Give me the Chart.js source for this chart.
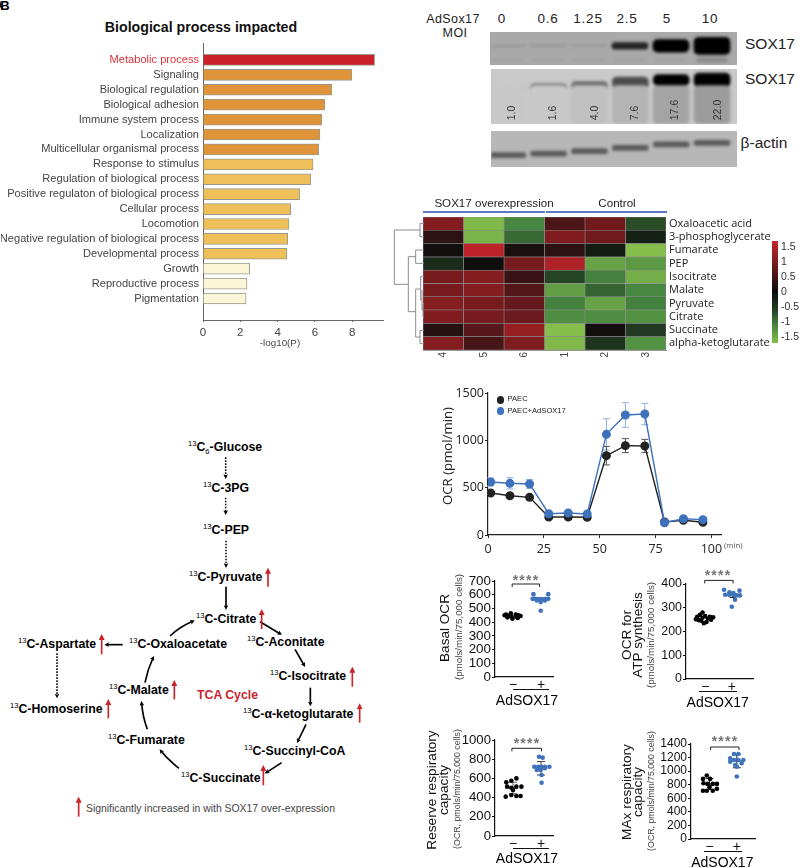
<!DOCTYPE html>
<html>
<head>
<meta charset="utf-8">
<style>
  html, body { margin: 0; padding: 0; background: #fff; }
  #page { position: relative; width: 800px; height: 868px; overflow: hidden; font-family: "Liberation Sans", Arial, sans-serif; }
  #page canvas { position: absolute; }
  .t { position: absolute; white-space: nowrap; line-height: 1; }
  .t sup, .t sub { font-size: 0.62em; font-weight: normal; line-height: 0; }
  .blot { position: absolute; overflow: hidden; }
  svg { position: absolute; }
</style>
<script src="https://cdn.jsdelivr.net/npm/chart.js@4"></script>
</head>
<body>
<div id="page"></div>
<script>
// A: GO terms
const goTerms = ["Metabolic process", "Signaling", "Biological regulation", "Biological adhesion", "Immune system process", "Localization", "Multicellular organismal process", "Response to stimulus", "Regulation of biological process", "Positive regulaton of biological process", "Cellular process", "Locomotion", "Negative regulation of biological process", "Developmental process", "Growth", "Reproductive process", "Pigmentation"];
const goValues = [9.2, 7.98, 6.9, 6.53, 6.37, 6.27, 6.2, 5.9, 5.78, 5.18, 4.7, 4.61, 4.54, 4.5, 2.5, 2.36, 2.31];
const goColors = ["#cb2229", "#e0943a", "#e0943a", "#e0943a", "#e0943a", "#e0943a", "#e0943a", "#efc059", "#efc059", "#efc059", "#efc059", "#efc059", "#efc059", "#efc059", "#fbf7d6", "#fbf7d6", "#fbf7d6"];

// B: western blots, band density per lane
const moiLabels = ["0", "0.6", "1.25", "2.5", "5", "10"];
const lanes = [0, 1, 2, 3, 4, 5];
const shortDensity = [0.08, 0.09, 0.07, 0.78, 1, 1];
const shortSize = [0.1, 0.1, 0.08, 0.2, 0.38, 0.52];
const longDensity = [0.08, 0.35, 0.38, 0.55, 1, 1];
const longSize = [0.1, 0.16, 0.16, 0.21, 0.2, 0.25];
const longLevel = [0.63, 0.65, 0.69, 0.75, 0.8, 0.8];
const longSmear = [0, 0, 0.04, 0.1, 0.18, 0.22];
const longQuant = ["1.0", "1.6", "4.0", "7.6", "17.6", "22.0"];
const actinLevel = [0.33, 0.37, 0.44, 0.53, 0.63, 0.67];

// C: metabolite heatmap
const metabolites = ["Oxaloacetic acid", "3-phosphoglycerate", "Fumarate", "PEP", "Isocitrate", "Malate", "Pyruvate", "Citrate", "Succinate", "alpha-ketoglutarate"];
const samples = ["4", "5", "6", "1", "2", "3"];
const heat4 = [0.95, 0.25, 0.05, -0.3, 0.85, 0.85, 0.95, 0.9, 0.2, 0.95];
const heat5 = [-1.45, -1.4, 1.4, 0.0, 0.95, 0.95, 0.85, 0.85, 0.6, 0.45];
const heat6 = [-1.0, -0.8, 0.1, 0.85, 0.35, 0.55, 0.7, 0.75, 1.1, 0.9];
const heat1 = [0.5, 0.9, 0.25, 1.3, -0.55, -1.2, -0.95, -1.05, -1.55, -1.45];
const heat2 = [0.8, 0.8, -0.15, -1.25, -0.95, -0.75, -1.25, -1.05, 0.05, -0.4];
const heat3 = [-0.6, -0.2, -1.5, -1.15, -1.35, -1.0, -0.95, -1.1, -0.45, -1.1];
const heatTicks = [-1.5, -1, -0.5, 0, 0.5, 1, 1.5];

// E: OCR trace
const ocrTime = [1.2, 9.8, 18.6, 27.2, 35.9, 44.4, 53, 61.5, 70.2, 79, 87.5, 96.2];
const ocrPaec = [444, 415, 398, 190, 190, 187, 838, 944, 940, 137, 155, 134];
const ocrPaecErr = [15, 15, 15, 20, 20, 20, 98, 74, 70, 15, 15, 15];
const ocrAd = [560, 546, 539, 225, 232, 222, 1063, 1268, 1278, 130, 172, 162];
const ocrAdErr = [42, 60, 46, 15, 15, 15, 165, 130, 113, 10, 15, 15];

// F: per-well values (x = swarm offset)
const basalMinus = [465, 455, 455, 450, 450, 445, 445, 440, 440, 435, 430, 425];
const basalMinusX = [-0.08, -0.25, 0.1, -0.3, 0.2, -0.15, 0.27, -0.05, 0.12, -0.2, 0.17, -0.02];
const basalPlus = [604, 604, 570, 570, 568, 568, 568, 570, 558, 546, 558, 483];
const basalPlusX = [-0.27, 0.26, -0.3, -0.21, -0.1, 0.02, 0.14, 0.26, -0.15, -0.01, 0.14, -0.01];
const atpMinus = [280, 270, 265, 262, 260, 258, 255, 252, 250, 245, 240, 235, 262, 248];
const atpMinusX = [-0.1, -0.2, 0.0, -0.3, 0.3, -0.1, 0.1, -0.35, 0.22, -0.15, 0.05, -0.05, 0.18, -0.25];
const atpPlus = [376, 372, 355, 355, 355, 352, 352, 365, 362, 334, 304];
const atpPlusX = [-0.29, 0.29, -0.25, -0.1, 0.06, 0.19, 0.31, -0.09, 0.06, 0.12, 0];
const reserveMinus = [559, 600, 576, 514, 503, 514, 514, 410, 427, 417, 417, 480];
const reserveMinusX = [-0.24, 0.12, -0.06, -0.21, -0.06, 0.12, 0.3, -0.26, -0.06, 0.12, 0.27, 0];
const reservePlus = [826, 816, 722, 722, 722, 722, 722, 688, 688, 705, 635, 555];
const reservePlusX = [-0.07, 0.06, -0.24, -0.1, 0.02, 0.14, 0.3, -0.15, -0.01, 0.14, 0.02, 0.02];
const maxMinus = [935, 886, 886, 822, 812, 812, 812, 710, 710, 710, 739, 764];
const maxMinusX = [-0.1, -0.24, 0.02, -0.22, -0.07, 0.12, 0.27, -0.24, -0.1, 0.12, 0.27, 0];
const maxPlus = [1253, 1253, 1189, 1165, 1165, 1165, 1140, 1091, 1116, 1067, 920];
const maxPlusX = [-0.1, 0.06, -0.24, -0.1, 0.06, 0.24, -0.24, -0.06, 0.18, 0, 0];

const page = document.getElementById("page");
const SANS = '"Liberation Sans", Arial, sans-serif';
const OPEN = '"Open Sans", sans-serif';

function txt(x, y, str, o) {
    o = o || {};
    const d = document.createElement("div");
    d.className = "t";
    d.innerHTML = str;
    d.style.left = x + "px";
    d.style.top = y + "px";
    d.style.fontSize = (o.size || 12) + "px";
    d.style.color = o.color || "#000";
    if (o.bold) d.style.fontWeight = "bold";
    if (o.font) d.style.fontFamily = o.font;
    if (o.ls) d.style.letterSpacing = o.ls + "px";
    const tx = o.left ? "0" : "-50%";
    d.style.transform = "translate(" + tx + ",-50%)" + (o.rot ? " rotate(" + o.rot + "deg)" : "");
    page.appendChild(d);
    return d;
}

function box(x, y, w, h, color) {
    const d = document.createElement("div");
    d.style.cssText = "position:absolute;left:" + x + "px;top:" + y + "px;width:" + w + "px;height:" + h + "px;background:" + color;
    page.appendChild(d);
}

// canvas around a plot rectangle, with fixed margins so the axes land where they should
function plotCanvas(r, m) {
    const c = document.createElement("canvas");
    c.width = m.l + (r.right - r.left) + m.r;
    c.height = m.t + (r.bottom - r.top) + m.b;
    c.style.left = (r.left - m.l) + "px";
    c.style.top = (r.top - m.t) + "px";
    page.appendChild(c);
    return c;
}

const errBars = {
    id: "errBars",
    beforeDatasetsDraw(chart, args, opts) {
        const ctx = chart.ctx, xs = chart.scales.x, ys = chart.scales.y;
        (opts.items || []).forEach(function (b) {
            const px = xs.getPixelForValue(b.x);
            const hi = ys.getPixelForValue(b.y + b.e);
            const lo = ys.getPixelForValue(b.y - b.e);
            ctx.save();
            ctx.strokeStyle = b.color;
            ctx.lineWidth = 1;
            ctx.beginPath();
            ctx.moveTo(px, hi); ctx.lineTo(px, lo);
            ctx.moveTo(px - b.cap, hi); ctx.lineTo(px + b.cap, hi);
            ctx.moveTo(px - b.cap, lo); ctx.lineTo(px + b.cap, lo);
            if (b.mid) { ctx.moveTo(px - b.mid, ys.getPixelForValue(b.y)); ctx.lineTo(px + b.mid, ys.getPixelForValue(b.y)); }
            ctx.stroke();
            ctx.restore();
        });
    }
};
const bracket = {
    id: "bracket",
    afterDraw(chart, args, opts) {
        if (opts.y === undefined) return;
        const ctx = chart.ctx, xs = chart.scales.x;
        const a = xs.getPixelForValue(opts.a), b = xs.getPixelForValue(opts.b);
        ctx.save();
        ctx.strokeStyle = "#222";
        ctx.lineWidth = 1;
        ctx.beginPath();
        ctx.moveTo(a, opts.y + 3); ctx.lineTo(a, opts.y); ctx.lineTo(b, opts.y); ctx.lineTo(b, opts.y + 3);
        ctx.stroke();
        ctx.restore();
    }
};
Chart.register(errBars, bracket);
Chart.defaults.animation = false;
Chart.defaults.responsive = false;
Chart.defaults.font.family = SANS;
Chart.defaults.plugins.legend.display = false;
Chart.defaults.plugins.tooltip.enabled = false;

// ---- A bar chart
txt(-1, 5, "A", { size: 13, bold: true });
txt(5, 5, "B", { size: 13, bold: true });
txt(201, 27, "Biological process impacted", { size: 14.2, bold: true, color: "#111" });
new Chart(plotCanvas({ left: 202.5, right: 383, top: 43, bottom: 320 }, { l: 202, r: 16, t: 10, b: 24 }), {
    type: "bar",
    data: {
        datasets: [{
            data: goValues.map(function (v, i) { return { x: v, y: i }; }),
            backgroundColor: goColors,
            borderColor: "#9a9a8c",
            borderWidth: 1,
            barThickness: 11
        }]
    },
    options: {
        indexAxis: "y",
        layout: { padding: { top: 10, right: 16 } },
        scales: {
            x: {
                type: "linear", min: 0, max: 9.65,
                afterBuildTicks: function (s) { s.ticks = [0, 2, 4, 6, 8].map(function (v) { return { value: v }; }); },
                afterFit: function (s) { s.height = 24; },
                border: { color: "#666", width: 1 },
                grid: { drawOnChartArea: false, tickLength: 2, color: "#666" },
                ticks: { color: "#444", font: { size: 11.5 }, padding: 4, maxRotation: 0 }
            },
            y: {
                type: "linear", reverse: true, min: -1.09, max: 17.44, offset: false,
                afterBuildTicks: function (s) { s.ticks = goTerms.map(function (c, i) { return { value: i }; }); },
                afterFit: function (s) { s.width = 202; },
                border: { color: "#666", width: 1 },
                grid: { display: false, drawTicks: false, offset: false },
                ticks: {
                    autoSkip: false, padding: 4,
                    font: { size: 11.1 },
                    color: function (c) { return c.index === 0 ? "#e0323a" : "#444"; },
                    callback: function (v) { return goTerms[v]; }
                }
            }
        }
    }
});
txt(280, 343, "-log10(P)", { size: 9.8, color: "#444" });

// ---- B western blots
function blot(x, y, w, h, bg, datasets) {
    const d = document.createElement("div");
    d.className = "blot";
    d.style.cssText = "left:" + x + "px;top:" + y + "px;width:" + w + "px;height:" + h + "px;background:" + bg;
    page.appendChild(d);
    const c = document.createElement("canvas");
    c.width = w; c.height = h;
    c.style.left = "0"; c.style.top = "0";
    c.style.filter = "blur(1.8px)";
    d.appendChild(c);
    new Chart(c, {
        type: "bar",
        data: { datasets: datasets },
        options: {
            scales: {
                x: { type: "linear", min: -0.41, max: 5.61, display: false, offset: false },
                y: { type: "linear", min: 0, max: 1, display: false, stacked: false }
            }
        }
    });
}
function gray(density, lightest) {
    const g = Math.round(lightest * (1 - density));
    return "rgb(" + g + "," + g + "," + g + ")";
}
function bandSet(center, size, colors, thick) {
    return {
        data: lanes.map(function (l) { return { x: l, y: [center[l] - size[l] / 2, center[l] + size[l] / 2] }; }),
        backgroundColor: colors,
        barThickness: thick,
        borderRadius: 5,
        stack: "lane",
        borderSkipped: false
    };
}
blot(490, 32, 247, 33, "#a9a9a9", [
    bandSet(lanes.map(function () { return 0.15; }), lanes.map(function (l) { return l === 5 ? 0.15 : 0; }), lanes.map(function () { return "#8d8d8d"; }), 30),
    bandSet(lanes.map(function () { return 0.58; }), shortSize, shortDensity.map(function (v) { return gray(v, 170); }), 36)
]);
blot(491, 69, 246, 55, "#c9c9c9", [
    bandSet(lanes.map(function () { return 0.35; }), lanes.map(function () { return 0.7; }), longSmear.map(function (v) { return gray(v, 200); }), 36),
    bandSet(lanes.map(function () { return 0.44; }), lanes.map(function (l) { return l < 3 ? 0.05 : 0; }), lanes.map(function () { return "#9a9a9a"; }), 33),
    bandSet(longLevel, longSize, longDensity.map(function (v) { return gray(v, 170); }), 36)
]);
blot(491, 131, 246, 36, "#b7b7b7", [
    bandSet(actinLevel, lanes.map(function () { return 0.14; }), lanes.map(function () { return "#5a5a5a"; }), 36)
]);
txt(453, 19, "AdSox17", { size: 12.5, color: "#222", ls: 0.4 });
txt(455, 33, "MOI", { size: 12.5, color: "#222", ls: 0.4 });
const moiX = [502, 548, 588, 627, 667, 710];
moiLabels.forEach(function (m, i) { txt(moiX[i], 19, m, { size: 13.5, color: "#222", ls: 0.8 }); });
txt(770, 44, "SOX17", { size: 15.5, color: "#222" });
txt(770, 79, "SOX17", { size: 15.5, color: "#222" });
txt(764, 143, "β-actin", { size: 15.5, color: "#222" });
const quantX = [510.7, 551.7, 594, 634, 674, 716.7];
const quantY = [113, 113, 113, 113, 110, 110];
longQuant.forEach(function (q, i) { txt(quantX[i], quantY[i], q, { size: 10.5, color: "#333", rot: -90 }); });

// ---- C heatmap
const greenStops = [[0, [14, 14, 14]], [0.5, [34, 62, 34]], [1, [72, 135, 65]], [1.5, [134, 190, 75]]];
function heatColor(v) {
    const a = Math.min(Math.abs(v), 1.5);
    if (v >= 0) {
        const t = a / 1.5;
        return "rgb(" + Math.round(14 + 186 * t) + "," + Math.round(14 + 23 * t) + "," + Math.round(14 + 29 * t) + ")";
    }
    let i = 0;
    while (i < greenStops.length - 2 && a > greenStops[i + 1][0]) i++;
    const lo = greenStops[i], hi = greenStops[i + 1];
    const t = (a - lo[0]) / (hi[0] - lo[0]);
    const c = lo[1].map(function (e, k) { return Math.round(e + (hi[1][k] - e) * t); });
    return "rgb(" + c[0] + "," + c[1] + "," + c[2] + ")";
}
const heatCols = [heat4, heat5, heat6, heat1, heat2, heat3];
new Chart(plotCanvas({ left: 423.3, right: 667.3, top: 216.7, bottom: 350.3 }, { l: 2, r: 120, t: 10, b: 16 }), {
    type: "bar",
    data: {
        labels: metabolites,
        datasets: heatCols.map(function (col, k) {
            return {
                data: col.map(function () { return [k, k + 1]; }),
                backgroundColor: col.map(heatColor),
                borderColor: "#8a8a8a",
                borderWidth: 0.6,
                borderSkipped: false,
                barPercentage: 1,
                categoryPercentage: 1,
                grouped: false
            };
        })
    },
    options: {
        indexAxis: "y",
        layout: { padding: { top: 10, left: 2 } },
        scales: {
            x: {
                type: "linear", min: 0, max: 6,
                afterBuildTicks: function (s) { s.ticks = samples.map(function (c, i) { return { value: i + 0.5 }; }); },
                afterFit: function (s) { s.height = 16; },
                grid: { display: false, drawTicks: false }, border: { color: "#999", width: 1 },
                ticks: {
                    color: "#444", font: { size: 10 }, padding: 2, minRotation: 90, maxRotation: 90,
                    callback: function (v) { return samples[Math.floor(v)]; }
                }
            },
            y: {
                position: "right",
                afterFit: function (s) { s.width = 120; },
                grid: { display: false, drawTicks: false }, border: { display: false },
                ticks: { color: "#222", font: { family: OPEN, size: 11 }, padding: 3, autoSkip: false }
            }
        }
    }
});
txt(494, 203, "SOX17 overexpression", { size: 11.6, color: "#222" });
txt(617, 203, "Control", { size: 11.6, color: "#222" });
box(423.3, 210.5, 121.5, 2.4, "#5d79c6");
box(546, 210.5, 121.3, 2.4, "#5d79c6");

// colour bar
new Chart(plotCanvas({ left: 772.3, right: 779, top: 240.7, bottom: 342.7 }, { l: 1, r: 30, t: 10, b: 10 }), {
    type: "bar",
    data: {
        labels: [""],
        datasets: [{
            data: [[-1.7, 1.7]],
            barPercentage: 1, categoryPercentage: 1,
            backgroundColor: function (c) {
                const a = c.chart.chartArea;
                if (!a) return "#000";
                const g = c.chart.ctx.createLinearGradient(0, a.bottom, 0, a.top);
                g.addColorStop(0, heatColor(-1.5));
                g.addColorStop(1 / 6, heatColor(-1));
                g.addColorStop(2 / 6, heatColor(-0.5));
                g.addColorStop(0.5, heatColor(0));
                g.addColorStop(1, heatColor(1.5));
                return g;
            }
        }]
    },
    options: {
        layout: { padding: { top: 10, right: 0, bottom: 10, left: 1 } },
        scales: {
            x: { display: false },
            y: {
                position: "right", min: -1.7, max: 1.7,
                afterBuildTicks: function (s) { s.ticks = heatTicks.map(function (v) { return { value: v }; }); },
                afterFit: function (s) { s.width = 30; },
                grid: { display: false, drawTicks: false }, border: { display: false },
                ticks: { color: "#333", font: { size: 10.5 }, padding: 3, callback: function (v) { return String(v); } }
            }
        }
    }
});

// dendrogram, traced in 3x coordinates
const svgNS = "http://www.w3.org/2000/svg";
function overlay(x, y, w, h, vbW, vbH, html) {
    const s = document.createElementNS(svgNS, "svg");
    s.setAttribute("width", w); s.setAttribute("height", h);
    s.setAttribute("viewBox", "0 0 " + vbW + " " + vbH);
    s.style.left = x + "px"; s.style.top = y + "px";
    s.innerHTML = html;
    page.appendChild(s);
}
const dendro = [
    "M117 40H105V80H117", "M105 60H28V223H70", "M70 140V305", "M70 140H92", "M117 120H92V160H117", "M70 305H92",
    "M92 237V381", "M92 237H107", "M107 200V270", "M107 200H117", "M107 270H111", "M111 241V300", "M111 241H117", "M111 300H114", "M114 281V321",
    "M114 281H117", "M114 321H117", "M92 381H105", "M117 361H105V401H117"
];
overlay(385, 210, 45, 145, 135, 435, dendro.map(function (d) {
    return '<path d="' + d + '" fill="none" stroke="#8c8c8c" stroke-width="3"/>';
}).join(""));

// ---- D pathway
const nodes = [
    [188, 447, "<sup>13</sup>C<sub>6</sub>-Glucose"], [203, 488, "<sup>13</sup>C-3PG"], [203, 530, "<sup>13</sup>C-PEP"],
    [189, 577, "<sup>13</sup>C-Pyruvate"], [196, 619, "<sup>13</sup>C-Citrate"], [247, 642, "<sup>13</sup>C-Aconitate"],
    [129, 644, "<sup>13</sup>C-Oxaloacetate"], [18, 644, "<sup>13</sup>C-Aspartate"], [270, 676, "<sup>13</sup>C-Isocitrate"],
    [109, 690, "<sup>13</sup>C-Malate"], [10, 709, "<sup>13</sup>C-Homoserine"], [243, 714, "<sup>13</sup>C-α-ketoglutarate"],
    [108, 740, "<sup>13</sup>C-Fumarate"], [244, 751, "<sup>13</sup>C-Succinyl-CoA"], [181, 778, "<sup>13</sup>C-Succinate"]
];
nodes.forEach(function (n) { txt(n[0], n[1], n[2], { size: 12.3, bold: true, left: true }); });
txt(197, 695, "TCA Cycle", { size: 12.3, bold: true, color: "#c9252c", left: true });
txt(86, 809, "Significantly increased in with SOX17 over-expression", { size: 10.4, color: "#444", left: true });

const dotted = ["M677 112V170", "M677 233V278", "M678 362V437", "M171 700V828"];
const solid = ["M678 500V563", "M510 648Q540 620 578 604", "M780 605L840 641", "M368 674H320", "M885 688L912 735", "M931 803V852", "M918 913L894 963", "M845 1028L800 1057", "M537 1045Q505 1020 483 993", "M442 928Q428 890 425 850", "M435 788Q442 750 459 714"];
const redUp = [[804, 500, 452], [785, 627, 576], [305, 703, 651], [1057, 800, 749], [523, 838, 789], [325, 895, 846], [1079, 908, 859], [790, 1096, 1044], [236, 1190, 1139]];
let arrows = '<defs><marker id="hb" markerWidth="16" markerHeight="16" refX="7" refY="8" orient="auto" markerUnits="userSpaceOnUse"><path d="M0 1L14 8L0 15L3 8Z" fill="#000"/></marker>' +
    '<marker id="hr" markerWidth="18" markerHeight="20" refX="9" refY="10" orient="auto" markerUnits="userSpaceOnUse"><path d="M0 1L18 10L0 19Z" fill="#c9252c"/></marker></defs>';
dotted.forEach(function (d) { arrows += '<path d="' + d + '" fill="none" stroke="#000" stroke-width="4.5" stroke-dasharray="5 4" marker-end="url(#hb)"/>'; });
solid.forEach(function (d) { arrows += '<path d="' + d + '" fill="none" stroke="#000" stroke-width="5" marker-end="url(#hb)"/>'; });
redUp.forEach(function (a) { arrows += '<path d="M' + a[0] + " " + a[1] + "V" + a[2] + '" fill="none" stroke="#c9252c" stroke-width="5" marker-end="url(#hr)"/>'; });
overlay(0, 420, 400, 400, 1200, 1200, arrows);

// ---- E OCR
new Chart(plotCanvas({ left: 488.3, right: 721.7, top: 392.7, bottom: 534.7 }, { l: 48, r: 16, t: 10, b: 20 }), {
    type: "line",
    data: {
        datasets: [
            { data: ocrTime.map(function (t, i) { return { x: t, y: ocrAd[i] }; }), borderColor: "#3f72bd", backgroundColor: "#3f72bd", borderWidth: 1.4, pointRadius: 3.8 },
            { data: ocrTime.map(function (t, i) { return { x: t, y: ocrPaec[i] }; }), borderColor: "#222", backgroundColor: "#222", borderWidth: 1.4, pointRadius: 3.8 }
        ]
    },
    options: {
        layout: { padding: { top: 10, right: 16 } },
        plugins: {
            errBars: {
                items: ocrTime.map(function (t, i) { return { x: t, y: ocrAd[i], e: ocrAdErr[i], color: "#8fb0dc", cap: 3.5 }; })
                    .concat(ocrTime.map(function (t, i) { return { x: t, y: ocrPaec[i], e: ocrPaecErr[i], color: "#555", cap: 3.5 }; }))
            }
        },
        scales: {
            x: {
                type: "linear", min: 0, max: 104.3,
                afterBuildTicks: function (s) { s.ticks = [0, 25, 50, 75, 100].map(function (v) { return { value: v }; }); },
                afterFit: function (s) { s.height = 20; },
                border: { color: "#222", width: 1.2 },
                grid: { drawOnChartArea: false, color: "#222", tickLength: 3 },
                ticks: { color: "#222", font: { family: OPEN, size: 12.5 }, padding: 4, maxRotation: 0, callback: function (v) { return String(v); } }
            },
            y: {
                type: "linear", min: 0, max: 1500,
                afterBuildTicks: function (s) { s.ticks = [0, 500, 1000, 1500].map(function (v) { return { value: v }; }); },
                afterFit: function (s) { s.width = 48; },
                border: { color: "#222", width: 1.2 },
                grid: { drawOnChartArea: false, color: "#222", tickLength: 3 },
                ticks: { color: "#222", font: { family: OPEN, size: 12.5 }, padding: 1, callback: function (v) { return String(v); } }
            }
        }
    }
});
txt(448, 456, "OCR (pmol/min)", { size: 13.2, rot: -90, font: OPEN, color: "#222" });
txt(724, 546, "(min)", { size: 7.8, color: "#555", left: true, font: OPEN });
function legendDot(x, y, color) {
    const d = document.createElement("div");
    d.style.cssText = "position:absolute;left:" + (x - 3.8) + "px;top:" + (y - 3.8) + "px;width:7.6px;height:7.6px;border-radius:50%;background:" + color;
    page.appendChild(d);
}
legendDot(500.7, 400, "#222");
legendDot(500.7, 411, "#3f72bd");
txt(507.5, 399, "PAEC", { size: 7.6, left: true, color: "#222" });
txt(507.5, 411, "PAEC+AdSOX17", { size: 7.6, left: true, color: "#222" });

// ---- F scatter panels
function scatterPanel(o) {
    const unit = o.plusPx - o.minusPx;
    const xMin = 1 - (o.minusPx - o.rect.left) / unit;
    const xMax = 2 + (o.rect.right - o.plusPx) / unit;
    new Chart(plotCanvas(o.rect, { l: 42, r: 12, t: 10, b: 18 }), {
        type: "scatter",
        data: {
            datasets: [
                { data: o.minus.map(function (v, i) { return { x: 1 + o.minusX[i], y: v }; }), backgroundColor: "#000", pointRadius: 2.3, pointBorderWidth: 0 },
                { data: o.plus.map(function (v, i) { return { x: 2 + o.plusX[i], y: v }; }), backgroundColor: "#3f72bd", pointRadius: 2.3, pointBorderWidth: 0 }
            ]
        },
        options: {
            layout: { padding: { top: 10, right: 12 } },
            plugins: {
                errBars: { items: o.err },
                bracket: { y: o.bracketY - o.rect.top + 10, a: o.brA, b: o.brB }
            },
            scales: {
                x: {
                    type: "linear", min: xMin, max: xMax,
                    afterBuildTicks: function (s) { s.ticks = [{ value: 1 }, { value: 2 }]; },
                    afterFit: function (s) { s.height = 18; },
                    border: { color: "#111", width: 1.2 },
                    grid: { display: false, drawTicks: false },
                    ticks: { color: "#111", font: { size: 14 }, padding: 0, maxRotation: 0, callback: function (v) { return v === 1 ? "−" : "+"; } }
                },
                y: {
                    type: "linear", min: 0, max: o.yMax,
                    afterBuildTicks: function (s) {
                        const t = [];
                        for (let v = 0; v <= o.yMax; v += o.step) t.push({ value: v });
                        s.ticks = t;
                    },
                    afterFit: function (s) { s.width = 42; },
                    border: { color: "#111", width: 1.2 },
                    grid: { drawOnChartArea: false, color: "#111", tickLength: 3 },
                    ticks: { color: "#111", font: { size: o.tick }, padding: 1, autoSkip: false, callback: function (v) { return String(v); } }
                }
            }
        }
    });
    txt(o.starX, o.starY, "****", { size: 14, color: "#777", bold: true, ls: 1.2 });
    box(o.ulA, o.ulY, o.ulB - o.ulA, 1, "#111");
    txt(o.adX, o.adY, "AdSOX17", { size: 14 });
    o.labels.forEach(function (l) { txt(l[0], l[1], l[2], { size: l[3], rot: -90, color: l[4] || "#111" }); });
}
scatterPanel({
    rect: { left: 495, right: 553, top: 581, bottom: 677.7 }, minusPx: 513, plusPx: 541, yMax: 700, step: 100, tick: 13.4,
    minus: basalMinus, minusX: basalMinusX, plus: basalPlus, plusX: basalPlusX,
    err: [], bracketY: 584, brA: 0.97, brB: 1.95, starX: 526, starY: 580,
    ulA: 512.7, ulB: 549.3, ulY: 688.7, adX: 527, adY: 699.7,
    labels: [[445, 628, "Basal OCR", 13.6], [459, 627, "(pmols/min/75,000 cells)", 9.8, "#444"]]
});
scatterPanel({
    rect: { left: 685.7, right: 753, top: 584.3, bottom: 679.7 }, minusPx: 705, plusPx: 731.7, yMax: 400, step: 100, tick: 12.4,
    minus: atpMinus, minusX: atpMinusX, plus: atpPlus, plusX: atpPlusX,
    err: [{ x: 2.03, y: 352, e: 8, color: "#000", cap: 3 }], bracketY: 580.7, brA: 0.98, brB: 2.05, starX: 718, starY: 575,
    ulA: 699, ulB: 737, ulY: 691, adX: 717.7, adY: 701.7,
    labels: [[626.7, 635, "OCR for", 13.6], [638, 635, "ATP synthesis", 13.6], [651, 635, "(pmols/min/75,000 cells)", 9.8, "#444"]]
});
scatterPanel({
    rect: { left: 495, right: 553, top: 740, bottom: 836 }, minusPx: 513, plusPx: 541, yMax: 1000, step: 200, tick: 13.2,
    minus: reserveMinus, minusX: reserveMinusX, plus: reservePlus, plusX: reservePlusX,
    err: [{ x: 1, y: 500, e: 60, color: "#666", cap: 4, mid: 5 }, { x: 2, y: 705, e: 70, color: "#444", cap: 4, mid: 5 }],
    bracketY: 748.3, brA: 0.96, brB: 2.02, starX: 527, starY: 743,
    ulA: 512.7, ulB: 549.3, ulY: 847.7, adX: 527, adY: 857.7,
    labels: [[432, 790, "Reserve respiratory", 13.7], [444, 790, "capacity", 13.7], [457, 789, "(OCR, pmols/min/75,000 cells)", 8.8, "#444"]]
});
scatterPanel({
    rect: { left: 690.7, right: 755, top: 744, bottom: 839.3 }, minusPx: 709.3, plusPx: 736.7, yMax: 1400, step: 200, tick: 12,
    minus: maxMinus, minusX: maxMinusX, plus: maxPlus, plusX: maxPlusX,
    err: [{ x: 1, y: 810, e: 80, color: "#222", cap: 4, mid: 5 }, { x: 2, y: 1150, e: 100, color: "#222", cap: 4, mid: 5 }],
    bracketY: 747, brA: 1.04, brB: 2.08, starX: 725, starY: 741,
    ulA: 704, ulB: 741.7, ulY: 851, adX: 722.3, adY: 861.7,
    labels: [[626.7, 791.7, "MAx respiratory", 13.7], [638, 791.7, "capacity", 13.7], [651, 791, "(OCR, pmols/min/75,000 cells)", 8.8, "#444"]]
});
</script>
</body>
</html>
